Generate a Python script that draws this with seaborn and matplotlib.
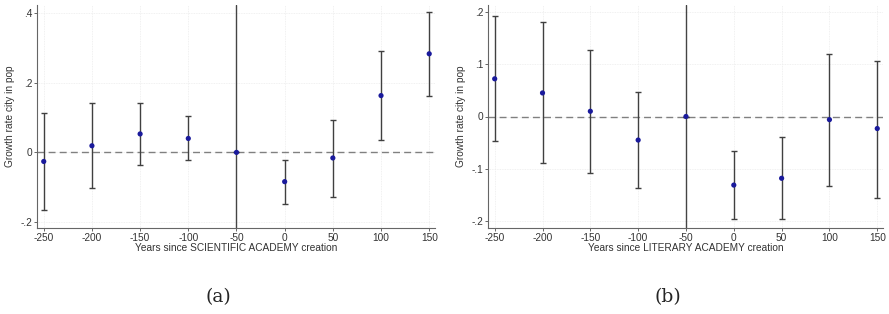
import pandas as pd
import seaborn as sns
import matplotlib.pyplot as plt

years = [-250, -200, -150, -100, -50, 0, 50, 100, 150]

# Panel (a): scientific academies
sci_coef = [-0.026, 0.019, 0.053, 0.040, 0.0, -0.084, -0.016, 0.163, 0.283]
sci_low = [-0.164, -0.103, -0.037, -0.023, 0.0, -0.149, -0.127, 0.036, 0.163]
sci_high = [0.114, 0.143, 0.141, 0.104, 0.0, -0.023, 0.094, 0.291, 0.403]

# Panel (b): literary academies
lit_coef = [0.072, 0.045, 0.010, -0.045, 0.0, -0.131, -0.118, -0.006, -0.023]
lit_low = [-0.046, -0.089, -0.108, -0.137, 0.0, -0.196, -0.195, -0.132, -0.155]
lit_high = [0.192, 0.180, 0.127, 0.046, 0.0, -0.066, -0.040, 0.119, 0.106]

sci_yticks = [-0.2, 0, 0.2, 0.4]
sci_yticklabels = ["-.2", "0", ".2", ".4"]
lit_yticks = [-0.2, -0.1, 0, 0.1, 0.2]
lit_yticklabels = ["-.2", "-.1", "0", ".1", ".2"]

sns.set_theme(style="white")
plt.rcParams["font.family"] = ["Liberation Sans", "DejaVu Sans"]

W, H = 889, 314
fig = plt.figure(figsize=(W / 100, H / 100), dpi=100)


def panel(left, right, coef, low, high, ylim, yticks, yticklabels, xlabel, caption, cap_x):
    ax = fig.add_axes([left / W, 1 - 228 / H, (right - left) / W, 223 / H])
    df = pd.DataFrame({"year": years, "coef": coef, "low": low, "high": high})
    err = [df["coef"] - df["low"], df["high"] - df["coef"]]
    ax.errorbar(df["year"], df["coef"], yerr=err, fmt="none", ecolor="#404040",
                elinewidth=1.0, capsize=2, capthick=1.0, zorder=2)
    sns.scatterplot(data=df, x="year", y="coef", ax=ax, color="#1a1a9c", s=14,
                    edgecolor="none", zorder=3)
    ax.axhline(0, color="#808080", ls=(0, (5, 3)), lw=1.0, zorder=1)
    ax.axvline(-50, color="#444444", lw=1.0, zorder=1)
    ax.set_xlim(-257, 156)
    ax.set_ylim(*ylim)
    ax.set_xticks(years)
    ax.set_xticklabels([str(y) for y in years], fontsize=7.3, color="#333333")
    ax.set_yticks(yticks)
    ax.set_yticklabels(yticklabels, fontsize=7.3, color="#333333")
    ax.grid(True, color="#ececec", lw=0.6, ls=(0, (1, 1)))
    for s in ["top", "right"]:
        ax.spines[s].set_visible(False)
    for s in ["left", "bottom"]:
        ax.spines[s].set_color("#666666")
        ax.spines[s].set_linewidth(0.8)
    ax.tick_params(axis="both", direction="out", length=2.5, width=0.7,
                   color="#666666", pad=1, bottom=True, left=True)
    ax.set_xlabel(xlabel, fontsize=7.3, color="#333333", labelpad=0)
    ax.set_ylabel("Growth rate city in pop", fontsize=7.3, color="#333333", labelpad=4)
    fig.text(cap_x / W, 1 - 297 / H, caption, ha="center", va="center",
             fontsize=13.5, family=["DejaVu Serif"])
    return ax


panel(37, 435, sci_coef, sci_low, sci_high, (-0.217, 0.423), sci_yticks,
      sci_yticklabels, "Years since SCIENTIFIC ACADEMY creation", "(a)", 218)
panel(488, 883, lit_coef, lit_low, lit_high, (-0.213, 0.213), lit_yticks,
      lit_yticklabels, "Years since LITERARY ACADEMY creation", "(b)", 668)

fig.savefig("out.png", dpi=100)
